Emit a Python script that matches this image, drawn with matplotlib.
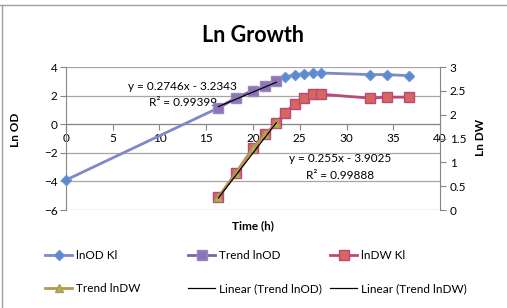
import matplotlib.pyplot as plt
import numpy as np
from matplotlib.lines import Line2D

plt.rcParams['font.family'] = ['Lato', 'DejaVu Sans']

# time (h)
t_od = [0, 16.3, 18.2, 20.0, 21.3, 22.5, 23.4, 24.5, 25.5, 26.4, 27.3, 32.5, 34.3, 36.7]
ln_od = [-3.9, 1.15, 1.85, 2.35, 2.65, 3.05, 3.31, 3.48, 3.55, 3.59, 3.59, 3.48, 3.48, 3.40]

t_trend = [16.3, 18.2, 20.0, 21.3, 22.5]
trend_od = [1.15, 1.85, 2.35, 2.65, 3.05]
trend_dw = [0.27, 0.78, 1.30, 1.59, 1.82]

t_dw = [16.3, 18.2, 20.0, 21.3, 22.5, 23.4, 24.5, 25.5, 26.4, 27.3, 32.5, 34.3, 36.7]
ln_dw = [0.27, 0.78, 1.30, 1.59, 1.82, 2.04, 2.22, 2.35, 2.43, 2.43, 2.35, 2.37, 2.37]

# trendline equations shown on the chart
fit_od = (0.2746, -3.2343, 0.99399)
fit_dw = (0.255, -3.9025, 0.99888)

fig = plt.figure(figsize=(5.07, 3.08), dpi=100)
ax = fig.add_axes([0.130, 0.318, 0.738, 0.464])
ax2 = ax.twinx()

ax.set_xlim(0, 40)
ax.set_ylim(-6, 4)
ax2.set_ylim(0, 3)

l1, = ax.plot(t_od, ln_od, '-D', color='#8088C8', lw=2, ms=5.5,
              mfc='#5A8AD0', mec='#6C92D4', clip_on=False, zorder=3)
l2, = ax.plot(t_trend, trend_od, '-s', color='#8064A2', lw=2, ms=7,
              mfc='#8C74B8', mec='#9A86C0', clip_on=False, zorder=4)
xf = np.array([t_trend[0], t_trend[-1]])
l5, = ax.plot(xf, fit_od[0] * xf + fit_od[1], color='black', lw=0.9, zorder=5)

l3, = ax2.plot(t_dw, ln_dw, '-s', color='#B8497C', lw=2, ms=7,
               mfc='#D8665C', mec='#B8497C', zorder=3)
l4, = ax2.plot(t_trend, trend_dw, '-^', color='#B8964F', lw=2, ms=6,
               mfc='#9BBB59', mec='#B8964F', zorder=4)
l6, = ax2.plot(xf, fit_dw[0] * xf + fit_dw[1], color='black', lw=0.9, zorder=5)

# axes styling
ax.spines['top'].set_visible(False)
ax.spines['right'].set_visible(False)
ax.spines['bottom'].set_position(('data', 0))
ax.spines['left'].set_color('#868686')
ax.spines['bottom'].set_color('#868686')
for s in ['top', 'left', 'bottom']:
    ax2.spines[s].set_visible(False)
ax2.spines['right'].set_color('#868686')

ax.set_xticks(np.arange(0, 41, 5))
ax.set_yticks(np.arange(-6, 5, 2))
ax2.set_yticks(np.arange(0, 3.01, 0.5))
ax2.set_yticklabels(['0', '0.5', '1', '1.5', '2', '2.5', '3'])
ax.tick_params(axis='both', direction='out', length=4, color='#868686', labelsize=8.5, pad=2)
ax2.tick_params(axis='y', direction='out', length=4, color='#868686', labelsize=8.5, pad=3)
ax.yaxis.grid(True, color='#A6A6A6', lw=0.9)
ax.set_axisbelow(True)

ax.text(0.5, -0.07, 'Time (h)', transform=ax.transAxes, ha='center', va='top',
        fontsize=8.5, fontweight='bold')
ax.text(-0.135, 0.56, 'Ln OD', transform=ax.transAxes, ha='center', va='center',
        rotation=90, fontsize=8.5, fontweight='bold')
ax.text(1.107, 0.51, 'Ln DW', transform=ax.transAxes, ha='center', va='center',
        rotation=90, fontsize=8.5, fontweight='bold')
fig.text(0.5, 0.885, 'Ln Growth', ha='center', va='center', fontsize=15.5, fontweight='bold')

ax.text(12.5, 2.66, 'y = %.4fx - %.4f' % (fit_od[0], -fit_od[1]), ha='center', va='center', fontsize=8.5)
ax.text(12.5, 1.54, 'R² = %.5f' % fit_od[2], ha='center', va='center', fontsize=8.5)
ax.text(29.3, -2.38, 'y = %.3fx - %.4f' % (fit_dw[0], -fit_dw[1]), ha='center', va='center', fontsize=8.5)
ax.text(29.3, -3.57, 'R² = %.5f' % fit_dw[2], ha='center', va='center', fontsize=8.5)

# legend, 3 columns x 2 rows
cols = [([l1, l4], ['lnOD Kl', 'Trend lnDW'], 45),
        ([l2, l5], ['Trend lnOD', 'Linear (Trend lnOD)'], 188),
        ([l3, l6], ['lnDW Kl', 'Linear (Trend lnDW)'], 330)]
for h, lab, x in cols:
    fig.legend(h, lab, loc='upper left', bbox_to_anchor=(x / 507, 1 - 250 / 308),
               frameon=False, fontsize=8.5, handlelength=2.3, handletextpad=0.3,
               labelspacing=1.85, borderpad=0, borderaxespad=0)

# chart border (top and left edges visible)
fig.add_artist(Line2D([0, 1], [0.985, 0.985], color='#A0A0A0', lw=1))
fig.add_artist(Line2D([0.004, 0.004], [0, 0.985], color='#A0A0A0', lw=1))

plt.savefig('out.png', dpi=100)
